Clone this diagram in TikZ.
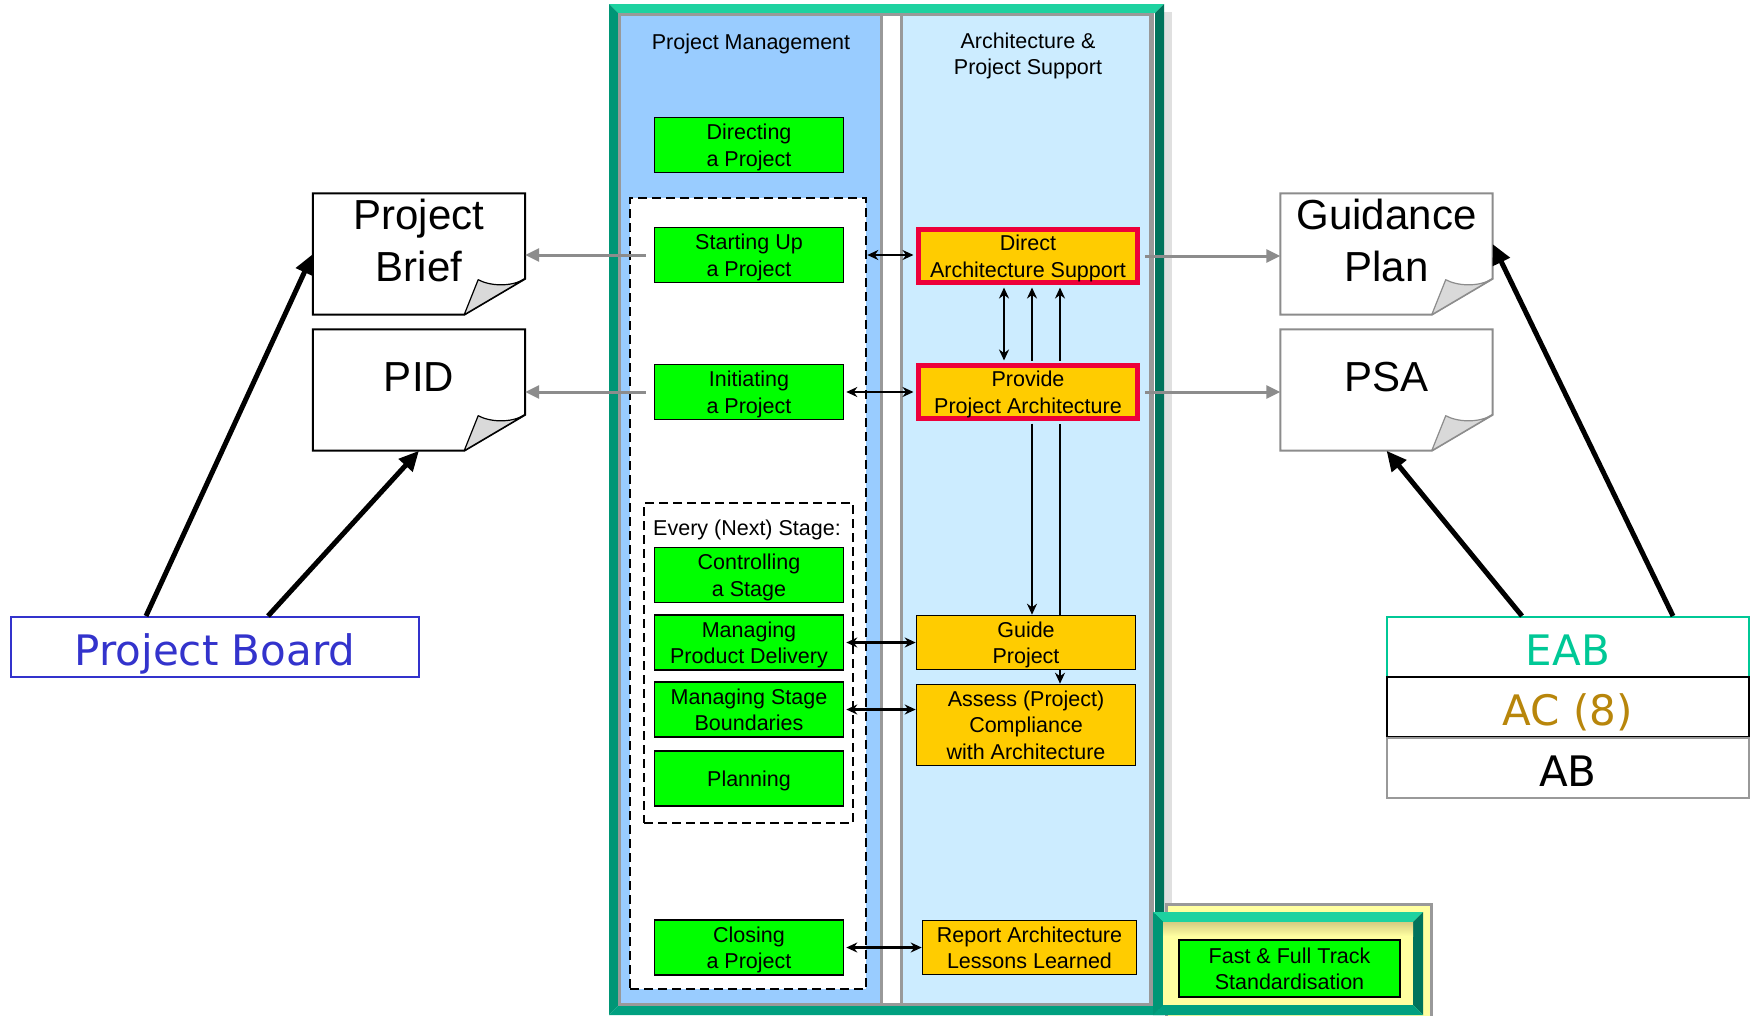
\documentclass[tikz,border=0pt]{standalone}
\usepackage{fontspec}
\setmainfont{Liberation Sans}
\newfontfamily\verdfont{DejaVu Sans}
\usetikzlibrary{arrows.meta}

\definecolor{panelblue}{RGB}{153,204,255}
\definecolor{panellight}{RGB}{204,236,255}
\definecolor{boxgreen}{RGB}{0,255,0}
\definecolor{boxorange}{RGB}{255,204,0}
\definecolor{alertred}{RGB}{237,0,58}
\definecolor{framegray}{RGB}{153,153,153}
\definecolor{tealmid}{RGB}{0,160,128}
\definecolor{teallight}{RGB}{30,210,160}
\definecolor{tealdark}{RGB}{0,115,92}
\definecolor{tealside}{RGB}{0,150,118}
\definecolor{paleyellow}{RGB}{255,255,160}
\definecolor{khaki}{RGB}{214,204,130}
\definecolor{foldgray}{RGB}{217,217,217}
\definecolor{eabteal}{RGB}{0,200,150}
\definecolor{acgold}{RGB}{184,134,11}
\definecolor{boardblue}{RGB}{51,51,204}
\definecolor{arrowgray}{RGB}{140,140,140}

% bevelled teal frame: x1 y1 x2 y2 thickness
\newcommand\bevelframe[5]{%
  \fill[teallight] (#1,#2) -- (#3,#2) -- (#3-#5,#2+#5) -- (#1+#5,#2+#5) -- cycle;
  \fill[tealside] (#1,#2) -- (#1+#5,#2+#5) -- (#1+#5,#4-#5) -- (#1,#4) -- cycle;
  \fill[tealdark] (#3,#2) -- (#3,#4) -- (#3-#5,#4-#5) -- (#3-#5,#2+#5) -- cycle;
  \fill[tealmid] (#1,#4) -- (#3,#4) -- (#3-#5,#4-#5) -- (#1+#5,#4-#5) -- cycle;
}

% document sheet with a curled bottom-right corner around a named node
\newcommand\docoutline[2]{%
  \draw[#2, line width=2pt, line join=miter]
    (#1.north west) -- (#1.north east) -- ([yshift=36pt]#1.south east)
    -- ([xshift=-61pt]#1.south east) -- (#1.south west) -- cycle;
  \draw[#2, line width=1.2pt, fill=foldgray, line join=round]
    ([yshift=36pt]#1.south east)
    .. controls ([xshift=-15pt,yshift=27pt]#1.south east) and ([xshift=-36pt,yshift=29pt]#1.south east)
    .. ([xshift=-47pt,yshift=35pt]#1.south east)
    -- ([xshift=-61pt]#1.south east) -- cycle;
}

\begin{document}
\begin{tikzpicture}[x=1pt,y=-1pt,
  boxfont/.style={font=\fontsize{21.5}{26.5}\selectfont},
  greenbox/.style={boxfont, draw=black, line width=1.6pt, fill=boxgreen,
    minimum width=189pt, minimum height=55pt, align=center, inner sep=0pt, text depth=-5pt},
  orangebox/.style={boxfont, draw=black, line width=1.6pt, fill=boxorange,
    minimum width=219pt, minimum height=54pt, align=center, inner sep=0pt, text depth=-5pt},
  keybox/.style={orangebox, draw=alertred, line width=5pt, minimum width=219pt, minimum height=53pt},
  dashbox/.style={draw=black, line width=2.6pt, dash pattern=on 9pt off 5pt, inner sep=0pt},
  doc/.style={minimum width=212pt, minimum height=121pt, inner sep=0pt},
  doctext/.style={font=\fontsize{42}{52}\selectfont, align=center, inner sep=0pt},
  bigword/.style={font=\verdfont\fontsize{42}{50}\selectfont, inner sep=0pt,
    text height=37pt, text depth=0pt, line width=2pt},
  dblarrow/.style={line width=2.6pt, {Stealth[length=11pt,width=10pt]}-{Stealth[length=11pt,width=10pt]}},
  sglarrow/.style={line width=2.6pt, -{Stealth[length=11pt,width=10pt]}},
  grayarrow/.style={draw=arrowgray, line width=3pt, -{Triangle[length=14pt,width=13pt]}},
  boldarrow/.style={line width=5pt, -{Triangle[length=20pt,width=18pt]}}
]
\useasboundingbox (0,0) rectangle (1752,1015);
\fill[white] (0,0) rectangle (1752,1015);
\clip (0,0) rectangle (1752,1015);

% ---------------- main frame with the two swim lanes ----------------
\fill[black!12] (1163,12) rectangle (1172,1015);
\bevelframe{609}{4}{1164}{1015}{9}
\draw[framegray, line width=3pt, fill=white] (619.5,14.5) rectangle (1152.5,1004.5);
\draw[framegray, line width=3pt, fill=panelblue] (619.5,14.5) rectangle (881,1004.5);
\draw[framegray, line width=3pt, fill=panellight] (901,14.5) rectangle (1150.5,1004.5);

\node[boxfont, inner sep=0pt] (pmtitle) at (751,44) {Project Management};
\node[boxfont, align=center, inner sep=0pt] (astitle) at (1028,56) {Architecture \&\\Project Support};

% ---------------- project management lane ----------------
\node[greenbox] (directing) at (749,145) {Directing\\a Project};
\node[dashbox, fill=white, minimum width=236pt, minimum height=791pt] (outerdash) at (748,593.5) {};
\node[dashbox, minimum width=209pt, minimum height=320pt] (innerdash) at (748.5,663) {};
\node[boxfont, inner sep=0pt] (stagelabel) at (747,529.5) {Every (Next) Stage:};

\node[greenbox] (start) at (749,255) {Starting Up\\a Project};
\node[greenbox] (init) at (749,392) {Initiating\\a Project};
\node[greenbox] (ctrl) at (749,575) {Controlling\\a Stage};
\node[greenbox] (mpd) at (749,642.5) {Managing\\Product Delivery};
\node[greenbox] (msb) at (749,709.5) {Managing Stage\\Boundaries};
\node[greenbox] (plan) at (749,778.5) {Planning};
\node[greenbox] (closing) at (749,947.5) {Closing\\a Project};

% ---------------- architecture lane ----------------
\node[keybox] (direct) at (1028,256) {Direct\\Architecture Support};
\node[keybox] (provide) at (1028,392) {Provide\\Project Architecture};
\node[orangebox] (guide) at (1026,642.5) {Guide\\Project};
\node[orangebox, minimum height=81pt] (assess) at (1026,725) {Assess (Project)\\Compliance\\with Architecture};
\node[orangebox, minimum width=214pt] (report) at (1029.5,947.5) {Report Architecture\\Lessons Learned};

% lane-to-lane links
\draw[dblarrow] (start.east -| outerdash.east) -- ([xshift=-2.5pt]start.east -| direct.west);
\draw[dblarrow] ([xshift=2pt]init.east) -- ([xshift=-2.5pt]init.east -| provide.west);
\draw[dblarrow] ([xshift=2pt]mpd.east) -- (mpd.east -| guide.west);
\draw[dblarrow] ([xshift=2pt]msb.east) -- (msb.east -| assess.west);
\draw[dblarrow] ([xshift=2pt]closing.east) -- (closing.east -| report.west);

% links inside the architecture lane
\draw[dblarrow] ([xshift=-24pt,yshift=-2.5pt]direct.south) -- ([xshift=-24pt,yshift=2.5pt]direct.south |- provide.north);
\draw[sglarrow] ([xshift=4pt,yshift=2.5pt]direct.south |- provide.north) -- ([xshift=4pt,yshift=-2.5pt]direct.south);
\draw[sglarrow] ([xshift=4pt,yshift=-2.5pt]direct.south |- provide.south) -- ([xshift=4pt]direct.south |- guide.north);
\draw[sglarrow] ([xshift=32pt,yshift=2.5pt]direct.south |- provide.north) -- ([xshift=32pt,yshift=-2.5pt]direct.south);
\draw[line width=2.6pt] ([xshift=32pt]direct.south |- guide.north) -- ([xshift=32pt,yshift=-2.5pt]direct.south |- provide.south);
\draw[sglarrow] ([xshift=32pt]direct.south |- guide.south) -- ([xshift=32pt]direct.south |- assess.north);

% ---------------- standardisation box ----------------
\draw[framegray, line width=3pt, fill=paleyellow] (1166.5,904.5) rectangle (1431.5,1020);
\bevelframe{1153}{912}{1423}{1015}{10}
\fill[paleyellow] (1163,922) rectangle (1413,1005);
\shade[top color=khaki, bottom color=paleyellow] (1163,922) rectangle (1413,936);
\node[greenbox, minimum width=221pt, minimum height=57pt] (fast) at (1289.5,968.5) {Fast \& Full Track\\Standardisation};

% ---------------- documents ----------------
\node[doc] (pb) at (419,254) {};
\node[doc] (pid) at (419,390) {};
\node[doc] (gp) at (1386.5,254) {};
\node[doc] (psa) at (1386.5,390) {};
\docoutline{pb}{black}
\docoutline{pid}{black}
\docoutline{gp}{arrowgray}
\docoutline{psa}{arrowgray}
\node[doctext] (pbtext) at (419,240) {Project\\Brief};
\node[doctext] (pidtext) at (419,377) {PID};
\node[doctext] (gptext) at (1386.5,240) {Guidance\\Plan};
\node[doctext] (psatext) at (1386.5,377) {PSA};

\draw[grayarrow] ([xshift=-8pt]start.west) -- (start.west -| pb.east);
\draw[grayarrow] ([xshift=-8pt]init.west) -- (init.west -| pid.east);
\draw[grayarrow] ([xshift=5pt]direct.east) -- (direct.east -| gp.west);
\draw[grayarrow] ([xshift=5pt]provide.east) -- (provide.east -| psa.west);

% ---------------- boards ----------------
\node[bigword, draw=boardblue, text=boardblue, minimum width=408pt, minimum height=60pt] (board) at (215,647) {Project Board};
\node[bigword, draw=eabteal, text=eabteal, minimum width=362pt, minimum height=60pt] (eab) at (1568,647) {EAB};
\node[bigword, draw=black, text=acgold, minimum width=362pt, minimum height=60pt] (ac) at (1568,707) {AC (8)};
\node[bigword, draw=framegray, text=black, minimum width=362pt, minimum height=60pt] (ab) at (1568,767.5) {AB};

\draw[boldarrow] ([xshift=-69pt]board.north) -- (pb.west);
\draw[boldarrow] ([xshift=53pt]board.north) -- (pid.south);
\draw[boldarrow] ([xshift=-46pt]eab.north) -- (psa.south);
\draw[boldarrow] ([xshift=105pt]eab.north) -- ([yshift=10pt]gp.east);
\end{tikzpicture}
\end{document}
